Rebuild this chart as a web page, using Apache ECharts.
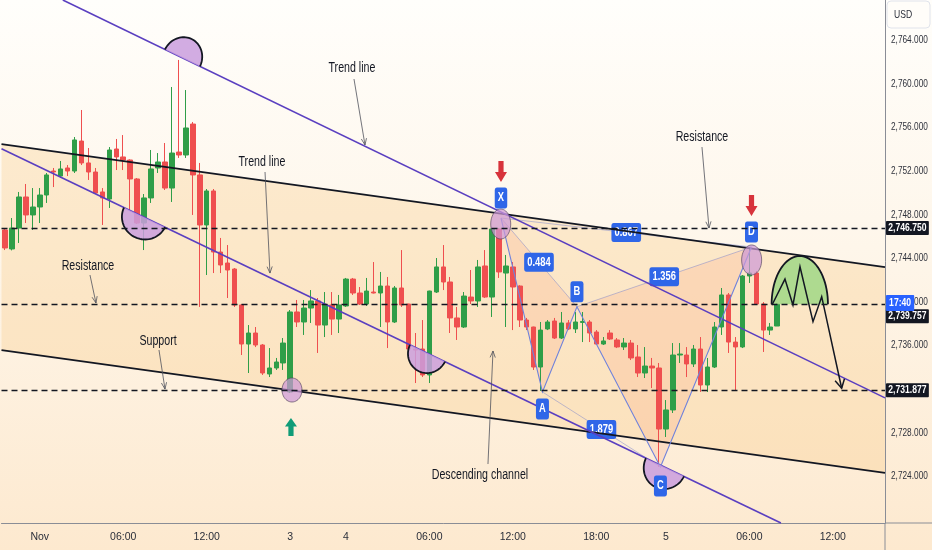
<!DOCTYPE html>
<html><head><meta charset="utf-8">
<script src="https://cdn.jsdelivr.net/npm/echarts@6/dist/echarts.min.js"></script>
<style>
html,body{margin:0;padding:0;width:932px;height:550px;overflow:hidden;background:linear-gradient(180deg,#fffefb 0%,#fef6ea 45%,#fde9cf 100%);}
#chart{width:932px;height:550px;}
</style></head><body><div id="chart"></div>
<script>
const FONT = '"Liberation Sans",Arial,sans-serif';

// ---- time categories (30-minute bars) ----
const sessions = [['Oct 31','21:30',5],['Nov 1','00:00',36],['Nov 3','20:00',8],['Nov 4','00:00',37],['Nov 4','19:30',9],['Nov 5','00:00',32]];
const categories = [];
sessions.forEach(([d,t,n])=>{const [h,m]=t.split(':').map(Number);for(let k=0;k<n;k++){const mm=h*60+m+30*k;categories.push(d+' '+String(Math.floor(mm/60)).padStart(2,'0')+':'+String(mm%60).padStart(2,'0'));}});
const xTickLabels = [[5,'Nov'],[17,'06:00'],[29,'12:00'],[41,'3'],[49,'4'],[61,'06:00'],[73,'12:00'],[85,'18:00'],[95,'5'],[107,'06:00'],[119,'12:00']];
const yTicks = [2724,2728,2732,2736,2740,2744,2748,2752,2756,2760,2764];

// ---- OHLC ----
const open = [2746.57,2744.83,2746.75,2749.60,2747.95,2748.68,2749.78,2751.98,2751.52,2752.26,
2751.98,2754.73,2752.72,2751.89,2750.06,2749.41,2754.00,2753.27,2752.99,2751.25,
2747.21,2749.51,2752.26,2752.81,2750.42,2753.72,2753.45,2756.29,2751.62,2747.03,
2750.15,2744.55,2743.54,2742.99,2739.69,2736.11,2737.12,2736.02,2733.36,2733.91,
2734.37,2731.71,2739.05,2738.13,2739.41,2740.06,2737.85,2739.69,2738.40,2739.60,
2742.07,2740.79,2739.78,2740.88,2740.79,2741.43,2738.13,2741.25,2739.78,2735.65,
2735.65,2733.27,2740.88,2743.18,2741.80,2738.50,2737.67,2740.42,2740.06,2743.27,
2740.42,2746.66,2742.62,2743.18,2741.43,2738.31,2737.67,2734.00,2737.49,2738.22,
2736.66,2738.04,2737.49,2738.09,2738.13,2737.21,2736.11,2737.12,2736.48,2735.84,
2736.20,2734.92,2733.45,2734.09,2733.91,2728.31,2730.06,2735.10,2735.10,2734.28,
2735.65,2732.35,2734.00,2737.67,2740.61,2736.29,2735.84,2742.35,2742.62,2739.78,
2737.39,2737.76];
const close = [2744.92,2746.75,2749.60,2747.95,2748.68,2749.78,2751.62,2751.89,2752.17,2751.98,
2754.83,2752.72,2751.89,2749.96,2749.51,2753.91,2753.27,2752.99,2751.25,2747.21,
2749.51,2752.17,2752.81,2750.42,2753.63,2753.45,2755.93,2751.62,2747.03,2750.15,
2744.55,2743.36,2742.90,2739.69,2736.11,2737.12,2736.02,2733.45,2733.91,2734.46,
2736.20,2739.05,2738.13,2739.41,2740.06,2737.85,2739.69,2738.40,2739.69,2742.07,
2740.79,2739.78,2740.97,2740.79,2741.43,2738.13,2741.25,2739.69,2735.65,2735.56,
2733.27,2740.97,2743.18,2741.80,2738.50,2737.67,2740.51,2740.06,2743.18,2740.42,
2746.66,2742.72,2743.27,2741.34,2738.31,2737.67,2734.00,2737.39,2738.13,2736.66,
2738.04,2737.49,2738.13,2738.18,2737.12,2736.11,2736.39,2736.57,2735.84,2736.20,
2734.83,2733.45,2734.09,2733.91,2728.31,2730.06,2735.10,2735.19,2734.28,2735.65,
2732.35,2734.00,2737.67,2740.61,2736.29,2735.84,2742.35,2742.62,2739.78,2737.39,
2737.67,2739.76];
const high = [2746.75,2747.67,2750.06,2750.79,2750.42,2750.42,2751.80,2752.26,2752.90,2752.53,
2755.10,2757.58,2754.09,2752.26,2750.42,2754.18,2754.92,2755.28,2753.05,2751.34,
2749.87,2753.91,2753.63,2754.55,2759.69,2762.17,2759.41,2756.48,2752.72,2750.33,
2750.33,2745.84,2745.19,2743.08,2739.78,2737.85,2737.67,2736.11,2735.74,2734.83,
2736.66,2739.23,2740.15,2740.15,2741.06,2740.33,2740.88,2740.88,2740.61,2742.17,
2742.17,2741.34,2742.17,2743.63,2742.72,2742.26,2741.43,2744.73,2739.80,2737.12,
2738.31,2741.00,2744.00,2745.19,2742.26,2739.51,2740.88,2742.90,2743.82,2744.73,
2746.75,2746.75,2744.28,2743.63,2741.50,2738.50,2737.70,2738.13,2738.31,2738.50,
2739.05,2738.31,2739.05,2739.05,2738.31,2737.39,2736.75,2737.39,2736.66,2736.66,
2736.48,2736.02,2735.83,2734.83,2734.37,2730.97,2736.20,2736.20,2735.83,2736.02,
2736.75,2734.83,2738.13,2741.25,2740.79,2736.75,2742.44,2745.01,2742.81,2739.96,
2738.04,2739.85];
const low = [2744.73,2744.70,2745.38,2747.21,2746.57,2747.21,2749.05,2750.51,2751.34,2751.52,
2751.80,2752.53,2751.16,2749.87,2747.03,2748.59,2752.07,2752.07,2748.40,2747.12,
2744.73,2749.05,2751.80,2750.24,2749.14,2753.18,2753.18,2747.95,2739.51,2742.44,
2742.62,2742.62,2740.33,2739.51,2735.10,2733.45,2735.83,2733.27,2733.08,2733.73,
2733.73,2731.62,2737.67,2736.94,2738.04,2735.29,2736.75,2736.94,2737.12,2739.51,
2740.61,2739.69,2739.60,2740.75,2737.67,2735.74,2738.04,2739.51,2734.64,2732.53,
2733.08,2732.53,2740.79,2741.06,2737.12,2736.48,2737.58,2739.78,2739.51,2740.33,
2738.59,2742.17,2737.67,2737.39,2737.67,2737.39,2733.73,2731.80,2737.39,2736.57,
2736.57,2737.39,2737.12,2736.29,2736.29,2736.02,2736.02,2736.48,2735.74,2735.56,
2734.64,2733.08,2732.99,2732.07,2724.83,2727.58,2729.78,2734.37,2733.08,2734.00,
2731.71,2731.71,2733.91,2736.94,2735.29,2731.89,2735.74,2741.71,2739.69,2735.38,
2736.94,2737.76];

// ---- drawing annotations, in (bar index, price) ----
const levels = [2746.75, 2739.757, 2731.877];
const levelTagDy = [0, 12, 0];
const lastPriceTag = [2739.87, '17:40'];
const channelTop = [[-0.5,2754.44],[126.5,2743.17]];
const channelBottom = [[-0.5,2735.54],[126.5,2724.28]];
const trendUpper = [[8.31,2767.67],[126.5,2731.17]];
const trendLower = [[-0.5,2754.03],[111.54,2719.69]];
const pattern = {X:[71.30,2747.67],A:[77.26,2731.71],B:[82.22,2739.53],C:[94.22,2724.83],D:[107.31,2745.01]};
const patternLabelDy = {X:-20,A:17,B:-15,C:19,D:-15};
const ratioLinks = [['X','B','0.484'],['A','C','1.879'],['B','D','1.356'],['X','D','0.867']];
const ellipses = [[71.26,2747.12,10,15],[107.33,2743.82,10,15],[41.26,2731.89,10,12]];
const semicircles = [[[23.0,2763.13],[28.03,2761.58],-1,21],[[17.11,2748.63],[23.0,2746.83],1,22],[[58.22,2736.04],[63.25,2734.50],1,20],[[92.14,2725.64],[97.6,2723.97],1,22]];
const dome = {left:110.2,right:118.3,base:2739.757,top:2744.18};
const zigzag = [[110.26,2739.69],[112.12,2742.07],[113.27,2739.69],[114.28,2743.20],[116.15,2738.16],[117.40,2740.45],[120.27,2732.05]];
const downArrows = [[71.30,2751.94],[107.31,2748.82]];
const upArrows = [[41.11,2728.50]];
const notes = [['Trend line',49.88,2761.43],['Trend line',36.94,2752.81],['Resistance',11.93,2743.27],['Support',22.0,2736.39],['Descending channel',68.28,2724.09],['Resistance',100.19,2755.1]];
const pointers = [[[50.17,2760.42],[51.75,2754.37]],[[37.38,2751.89],[38.09,2742.62]],[[12.22,2742.44],[13.08,2739.87]],[[22.14,2735.56],[23.0,2731.98]],[[69.43,2725.10],[70.15,2735.47]],[[100.19,2754.18],[101.20,2746.75]]];

const tickMap = new Map(xTickLabels);
const candles = open.map((o,i)=>[o, close[i], low[i], high[i]]);
const BLUE = '#2f66e8';
const SQ = 0.78; // horizontal text squeeze of the original screenshot
const fmt = v=>Number(v).toLocaleString('en-US',{minimumFractionDigits:3,maximumFractionDigits:3});

function L(p1,p2,style){return {type:'line',shape:{x1:p1[0],y1:p1[1],x2:p2[0],y2:p2[1]},style:Object.assign({fill:null},style)};}
function head(p1,p2,len,ang){const a=Math.atan2(p2[1]-p1[1],p2[0]-p1[0]);return [[p2[0]-len*Math.cos(a-ang),p2[1]-len*Math.sin(a-ang)],p2,[p2[0]-len*Math.cos(a+ang),p2[1]-len*Math.sin(a+ang)]];}
function halfEll(c,u,n,a,h){const pts=[];for(let k=0;k<=40;k++){const t=Math.PI*k/40;pts.push([c[0]+Math.cos(t)*a*u[0]+Math.sin(t)*h*n[0],c[1]+Math.cos(t)*a*u[1]+Math.sin(t)*h*n[1]]);}return pts;}
function ell(c,rx,ry){const pts=[];for(let k=0;k<48;k++){const t=2*Math.PI*k/48;pts.push([c[0]+rx*Math.cos(t),c[1]+ry*Math.sin(t)]);}return pts;}
function tag(x,y,text,fs,pad,bg,align){return {type:'text',x:x,y:y,scaleX:SQ,style:{text:text,fill:'#ffffff',fontSize:fs,fontFamily:FONT,fontWeight:'bold',align:align||'center',verticalAlign:'middle',backgroundColor:bg||BLUE,padding:pad,borderRadius:align?1:3}};}

function renderBg(params, api){
  const c = d=>api.coord(d);
  const P = k=>api.coord(pattern[k]);
  const ch = [c(channelTop[0]),c(channelTop[1]),c(channelBottom[1]),c(channelBottom[0])];
  const kids = [{type:'polygon',shape:{points:ch},style:{fill:'rgba(249,200,125,0.30)'}}];
  kids.push({type:'polygon',shape:{points:[P('X'),P('A'),P('B')]},style:{fill:'rgba(244,150,115,0.20)'}});
  kids.push({type:'polygon',shape:{points:[P('B'),P('C'),P('D')]},style:{fill:'rgba(244,150,115,0.20)'}});
  ratioLinks.forEach(([a,b,t])=>{const p1=P(a),p2=P(b);kids.push(L(p1,p2,{stroke:'rgba(110,125,205,0.45)',lineWidth:1}));});
  ratioLinks.forEach(([a,b,t])=>{const p1=P(a),p2=P(b);kids.push(tag((p1[0]+p2[0])/2,(p1[1]+p2[1])/2,t,12,[4,4,3,4]));});
  return {type:'group',children:kids};
}

function renderFg(params, api){
  const c = d=>api.coord(d);
  const P = k=>api.coord(pattern[k]);
  const kids = [];
  kids.push(L(c(channelTop[0]),c(channelTop[1]),{stroke:'#131722',lineWidth:1.8}));
  kids.push(L(c(channelBottom[0]),c(channelBottom[1]),{stroke:'#131722',lineWidth:1.8}));
  kids.push(L(c(trendUpper[0]),c(trendUpper[1]),{stroke:'#5a3fc0',lineWidth:1.6}));
  kids.push(L(c(trendLower[0]),c(trendLower[1]),{stroke:'#5a3fc0',lineWidth:1.6}));
  kids.push({type:'polyline',shape:{points:['X','A','B','C','D'].map(P)},style:{stroke:'#6f82db',lineWidth:1.1,fill:null}});
  ellipses.forEach(([i,p,rx,ry])=>{kids.push({type:'polygon',shape:{points:ell(c([i,p]),rx,ry)},style:{fill:'rgba(205,152,214,0.72)',stroke:'rgba(85,70,95,0.85)',lineWidth:0.8}});});
  semicircles.forEach(([d1,d2,side,h])=>{
    const p1=c(d1),p2=c(d2);const dx=p2[0]-p1[0],dy=p2[1]-p1[1];const len=Math.hypot(dx,dy);
    const u=[dx/len,dy/len];const n=[-u[1]*side,u[0]*side];const m=[(p1[0]+p2[0])/2,(p1[1]+p2[1])/2];
    const pts=halfEll(m,u,n,len/2,h);
    kids.push({type:'polygon',shape:{points:pts},style:{fill:'rgba(202,158,222,0.85)'}});
    kids.push({type:'polyline',shape:{points:pts},style:{stroke:'#131722',lineWidth:1.8,fill:null}});
  });
  const b1=c([dome.left,dome.base]),b2=c([dome.right,dome.base]),tp=c([(dome.left+dome.right)/2,dome.top]);
  const dpts=halfEll([(b1[0]+b2[0])/2,b1[1]],[1,0],[0,-1],(b2[0]-b1[0])/2,b1[1]-tp[1]);
  kids.push({type:'polygon',shape:{points:dpts},style:{fill:'rgba(152,214,128,0.78)'}});
  kids.push({type:'polyline',shape:{points:dpts},style:{stroke:'#131722',lineWidth:1.8,fill:null}});
  const zz=zigzag.map(c);
  kids.push({type:'polyline',shape:{points:zz},style:{stroke:'#131722',lineWidth:1.5,fill:null}});
  kids.push({type:'polyline',shape:{points:head(zz[zz.length-2],zz[zz.length-1],10,0.5)},style:{stroke:'#131722',lineWidth:1.5,fill:null}});
  Object.keys(pattern).forEach(k=>{const p=P(k);kids.push(tag(p[0],p[1]+patternLabelDy[k],k,12,[5,4,4,4]));});
  downArrows.forEach(d=>{const p=c(d);const x=p[0],y=p[1];kids.push({type:'polygon',shape:{points:[[x-2.6,y-10.5],[x+2.6,y-10.5],[x+2.6,y+0.5],[x+6,y+0.5],[x,y+10.5],[x-6,y+0.5],[x-2.6,y+0.5]]},style:{fill:'#d7333b'}});});
  upArrows.forEach(d=>{const p=c(d);const x=p[0],y=p[1];kids.push({type:'polygon',shape:{points:[[x-2.6,y+9],[x+2.6,y+9],[x+2.6,y-0.5],[x+6,y-0.5],[x,y-9],[x-6,y-0.5],[x-2.6,y-0.5]]},style:{fill:'#109c78'}});});
  pointers.forEach(([a,b])=>{const p1=c(a),p2=c(b);kids.push(L(p1,p2,{stroke:'#4f525c',lineWidth:0.8}));kids.push({type:'polyline',shape:{points:head(p1,p2,7,0.38)},style:{stroke:'#4f525c',lineWidth:0.8,fill:null}});});
  notes.forEach(([t,i,p])=>{const q=c([i,p]);kids.push({type:'text',x:q[0],y:q[1],scaleX:0.76,style:{text:t,fill:'#131722',fontSize:14,fontFamily:FONT,align:'center',verticalAlign:'middle'}});});
  // price-scale tick labels and tags
  const edge = c([126.5, levels[0]])[0];
  yTicks.forEach(v=>{kids.push({type:'text',x:edge+6,y:c([126.5,v])[1],scaleX:0.72,style:{text:fmt(v),fill:'#2f323c',fontSize:11.5,fontFamily:FONT,align:'left',verticalAlign:'middle'}});});
  levels.forEach((v,k)=>{const y=c([126.5,v])[1]+levelTagDy[k];kids.push(tag(edge+1,y,fmt(v),11,[2,3,1,3],'#131722','left'));});
  kids.push(tag(edge+1,c([126.5,lastPriceTag[0]])[1],lastPriceTag[1],11,[3,4,2,4],'#2962ff','left'));
  return {type:'group',children:kids};
}

const chart = echarts.init(document.getElementById('chart'));
chart.setOption({
  animation:false,
  backgroundColor:'transparent',
  grid:{left:1.5,right:47,top:0,bottom:27,containLabel:false,outerBoundsMode:'none'},
  xAxis:[
    {type:'category',data:categories,boundaryGap:true,
     axisLine:{show:true,onZero:false,lineStyle:{color:'#8a8d96',width:1}},axisTick:{show:false},splitLine:{show:false},
     axisLabel:{interval:(i)=>tickMap.has(i),formatter:(v,i)=>tickMap.get(i)||'',color:'#2a2e39',fontSize:10.5,fontFamily:FONT,margin:9}},
    {type:'value',min:-0.5,max:126.5,show:false}
  ],
  yAxis:{type:'value',position:'right',min:2719.69,max:2767.67,scale:true,
    axisLine:{show:true,onZero:false,lineStyle:{color:'#8a8d96',width:1}},axisTick:{show:false},splitLine:{show:false},
    axisLabel:{show:false}},
  series:[
    {type:'custom',xAxisIndex:1,yAxisIndex:0,z:1,silent:true,renderItem:renderBg,data:[[0,2740]]},
    {type:'candlestick',xAxisIndex:0,yAxisIndex:0,z:2,data:candles,barWidth:5,
     itemStyle:{color:'#2f9e48',color0:'#ef4f4f',borderColor:'#2f9e48',borderColor0:'#ef4f4f',borderWidth:1},
     markLine:{symbol:['none','none'],silent:true,animation:false,precision:3,
       lineStyle:{color:'#131722',type:[6,4],width:1.4},label:{show:false},
       data:levels.map(v=>({yAxis:v}))}},
    {type:'custom',xAxisIndex:1,yAxisIndex:0,z:3,silent:true,renderItem:renderFg,data:[[0,2740]]}
  ],
  graphic:[
    {type:'rect',shape:{x:887,y:1,width:43,height:27,r:4},style:{fill:'#fffdf9',stroke:'#e0e3eb',lineWidth:1},z:10},
    {type:'text',x:894,y:15,scaleX:SQ,style:{text:'USD',fill:'#2a2e39',fontSize:11,fontFamily:FONT,verticalAlign:'middle'},z:11},
    {type:'line',shape:{x1:885,y1:523,x2:932,y2:523},style:{stroke:'#8a8d96',lineWidth:1},z:10},
    {type:'line',shape:{x1:885,y1:523,x2:885,y2:550},style:{stroke:'#8a8d96',lineWidth:1},z:10}
  ]
});
</script></body></html>
